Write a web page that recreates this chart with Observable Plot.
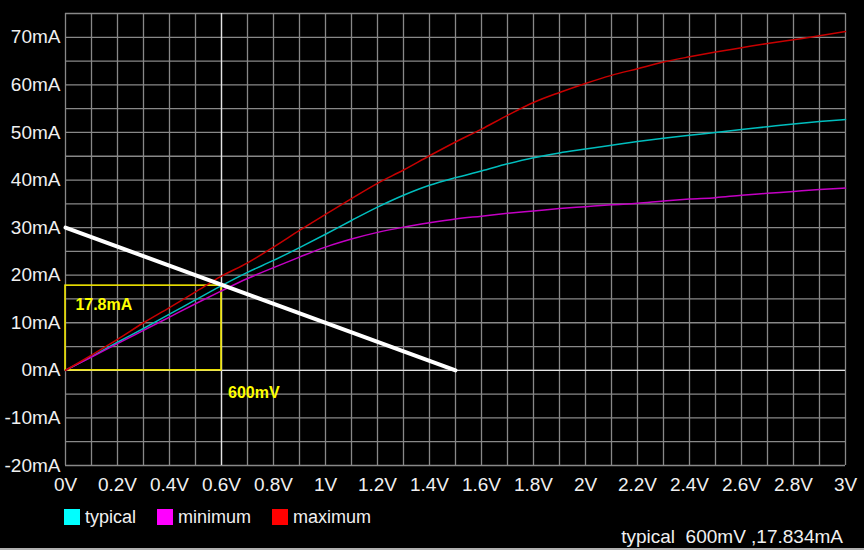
<!DOCTYPE html>
<html><head><meta charset="utf-8">
<script src="https://cdn.jsdelivr.net/npm/d3@7"></script>
<script src="https://cdn.jsdelivr.net/npm/@observablehq/plot@0.6"></script>
<style>
html,body{margin:0;padding:0;background:#000;}
body{width:864px;height:550px;position:relative;overflow:hidden;font-family:"Liberation Sans",Arial,sans-serif;color:#f0f0f0;}
#chart{position:absolute;left:0;top:0;}
#legend{position:absolute;left:64px;top:507px;display:flex;align-items:center;font-size:18px;line-height:20px;}
.item{display:flex;align-items:center;margin-right:21px;}
.sw{width:16px;height:16px;margin-right:5px;}
#status{position:absolute;right:21px;top:527px;font-size:19px;line-height:20px;white-space:pre;}
#bline{position:absolute;left:0;top:548px;width:864px;height:2px;background:#b0b0b0;}
</style></head><body>
<div id="chart"></div>
<div id="legend"></div>
<div id="status"></div>
<div id="bline"></div>
<script>
// ---- data ----
const volts = [0,0.1,0.2,0.3,0.4,0.5,0.6,0.7,0.8,0.9,1.0,1.1,1.2,1.3,1.4,1.5,1.6,1.7,1.8,1.9,2.0,2.1,2.2,2.3,2.4,2.5,2.6,2.7,2.8,2.9,3.0];
const typical = [0,2.9,5.9,8.8,11.8,14.8,17.8,20.6,23.1,25.8,28.6,31.5,34.3,36.8,38.9,40.5,41.9,43.4,44.7,45.7,46.5,47.3,48.1,48.8,49.4,50.0,50.6,51.2,51.8,52.3,52.7];
const minimum = [0,2.8,5.6,8.4,11.2,14.0,16.7,19.3,21.6,23.8,25.9,27.6,29.0,30.1,31.0,31.8,32.4,33.0,33.5,34.0,34.4,34.8,35.1,35.6,36.0,36.3,36.8,37.2,37.6,38.0,38.3];
const maximum = [0,3.2,6.5,10.0,13.2,16.5,19.8,22.6,25.9,29.4,32.8,36.1,39.3,42.1,45.1,48.0,50.7,53.6,56.3,58.4,60.3,62.0,63.4,64.8,65.9,66.9,67.8,68.7,69.5,70.3,71.2];
const seriesNames = ["typical","minimum","maximum"];
const lineColors = ["#00bebe","#c400c4","#c80000"];
const swatchColors = ["#00ffff","#ff00ff","#ff0000"];
const loadV = [0, 1.5];
const loadI = [30, 0];
const cursorV = 0.6;
const cursorI = 17.8;
const cursorLabelI = "17.8mA";
const cursorLabelV = "600mV";
const statusText = "typical  600mV ,17.834mA";
const xTickValues = [0,0.2,0.4,0.6,0.8,1,1.2,1.4,1.6,1.8,2,2.2,2.4,2.6,2.8,3];
const xTickLabels = ["0V","0.2V","0.4V","0.6V","0.8V","1V","1.2V","1.4V","1.6V","1.8V","2V","2.2V","2.4V","2.6V","2.8V","3V"];
const yTickValues = [-20,-10,0,10,20,30,40,50,60,70];
const yTickLabels = ["-20mA","-10mA","0mA","10mA","20mA","30mA","40mA","50mA","60mA","70mA"];
const gridV = [0,0.1,0.2,0.3,0.4,0.5,0.6,0.7,0.8,0.9,1.0,1.1,1.2,1.3,1.4,1.5,1.6,1.7,1.8,1.9,2.0,2.1,2.2,2.3,2.4,2.5,2.6,2.7,2.8,2.9,3.0];
const gridI = [-20,-15,-10,-5,0,5,10,15,20,25,30,35,40,45,50,55,60,65,70,75];

// ---- build ----
const seriesData = [typical, minimum, maximum];
const rows = [];
seriesNames.forEach((name, k) => volts.forEach((v, i) => rows.push({v, i: seriesData[k][i], s: name})));
const load = loadV.map((v, k) => ({v, i: loadI[k]}));
const xMap = new Map(xTickValues.map((d, k) => [d, xTickLabels[k]]));
const yMap = new Map(yTickValues.map((d, k) => [d, yTickLabels[k]]));

const chart = Plot.plot({
  width: 864, height: 500,
  marginLeft: 65, marginRight: 19, marginTop: 13, marginBottom: 35,
  x: {domain: [0, 3]},
  y: {domain: [-20, 75]},
  color: {domain: seriesNames, range: lineColors},
  style: {background: "#000", color: "#f0f0f0", fontSize: "19px", fontFamily: "'Liberation Sans', Arial, sans-serif"},
  marks: [
    Plot.ruleX(gridV, {stroke: "#888", strokeWidth: 1.3}),
    Plot.ruleY(gridI, {stroke: "#888", strokeWidth: 1.3}),
    Plot.ruleX([cursorV], {stroke: "#e4e4e4", strokeWidth: 1.3}),
    Plot.ruleY([0], {stroke: "#e4e4e4", strokeWidth: 1.3}),
    Plot.rect([{x1: 0, x2: cursorV, y1: 0, y2: cursorI}], {x1: "x1", x2: "x2", y1: "y1", y2: "y2", fill: "none", stroke: "#f2e600", strokeWidth: 1.6}),
    Plot.line(rows, {x: "v", y: "i", z: "s", stroke: "s", strokeWidth: 1.5, curve: "monotone-x"}),
    Plot.line(load, {x: "v", y: "i", stroke: "#ffffff", strokeWidth: 4}),
    Plot.text([cursorLabelI], {x: 0.038, y: 13.7, text: d => d, textAnchor: "start", fill: "#ffff00", fontWeight: "bold", fontSize: 16}),
    Plot.text([cursorLabelV], {x: 0.625, y: -4.7, text: d => d, textAnchor: "start", fill: "#ffff00", fontWeight: "bold", fontSize: 16}),
    Plot.axisX({ticks: xTickValues, tickFormat: d => xMap.get(d), tickSize: 0, tickPadding: 12, fill: "#f0f0f0"}),
    Plot.axisY({ticks: yTickValues, tickFormat: d => yMap.get(d), tickSize: 0, tickPadding: 5, fill: "#f0f0f0"})
  ]
});
document.getElementById("chart").appendChild(chart);

const legend = document.getElementById("legend");
seriesNames.forEach((name, k) => {
  const it = document.createElement("div"); it.className = "item";
  const sw = document.createElement("div"); sw.className = "sw"; sw.style.background = swatchColors[k];
  const tx = document.createElement("span"); tx.textContent = name;
  it.appendChild(sw); it.appendChild(tx); legend.appendChild(it);
});
document.getElementById("status").textContent = statusText;
</script>
</body></html>
